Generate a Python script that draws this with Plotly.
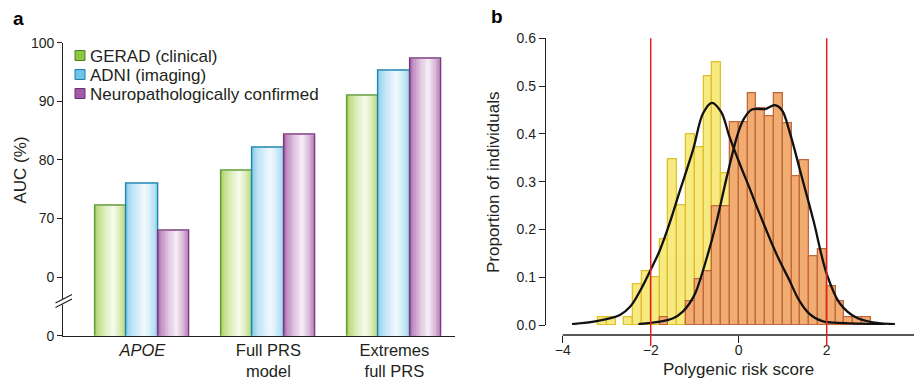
import plotly.graph_objects as go

W, H = 914, 381
FONT = "Arial, 'Liberation Sans', sans-serif"
INK = "#231F20"

# ---------------- Panel a data ----------------
categories = ["<i>APOE</i>", "Full PRS<br>model", "Extremes<br>full PRS"]
series_names = ["GERAD (clinical)", "ADNI (imaging)", "Neuropathologically confirmed"]
gerad_auc = [72.1, 78.2, 90.9]
adni_auc = [76.0, 82.1, 95.2]
neuro_auc = [68.0, 84.3, 97.2]
auc_tickvals = [50, 60, 70, 80, 90, 100]
auc_ticktext = ["0", "0", "70", "80", "90", "100"]

# ---------------- Panel b data ----------------
bin_width = 0.2
yellow_bin_starts = [-3.2, -3.0, -2.6, -2.4, -2.2, -2.0, -1.8, -1.6, -1.4, -1.2, -1.0, -0.8, -0.6, -0.4]
yellow_props = [0.017, 0.017, 0.017, 0.085, 0.112, 0.099, 0.180, 0.347, 0.250, 0.400, 0.372, 0.521, 0.550, 0.317]
orange_bin_starts = [-1.8, -1.2, -1.0, -0.8, -0.6, -0.4, -0.2, 0.0, 0.2, 0.4, 0.6, 0.8, 1.0,
                     1.2, 1.4, 1.6, 1.8, 2.0, 2.2, 2.4, 2.6, 2.8]
orange_props = [0.017, 0.049, 0.096, 0.112, 0.248, 0.248, 0.424, 0.424, 0.485, 0.453, 0.436, 0.485, 0.423,
                0.312, 0.345, 0.144, 0.158, 0.080, 0.049, 0.017, 0.017, 0.017]

yellow_kde_x = [-3.79, -3.23, -2.70, -2.47, -2.25, -2.02, -1.79, -1.57, -1.34, -1.04, -0.81, -0.61,
                -0.40, -0.21, 0.02, 0.24, 0.47, 0.85, 1.15, 1.37, 1.60, 1.90, 2.43, 3.33]
yellow_kde_y = [0.002, 0.008, 0.021, 0.038, 0.070, 0.112, 0.157, 0.213, 0.280, 0.366, 0.443, 0.465,
                0.446, 0.394, 0.338, 0.288, 0.234, 0.150, 0.094, 0.052, 0.024, 0.008, 0.004, 0.002]
orange_kde_x = [-2.28, -1.79, -1.49, -1.27, -1.12, -0.98, -0.74, -0.52, -0.27, -0.02, 0.12, 0.30,
                0.60, 0.82, 0.98, 1.17, 1.39, 1.70, 2.00, 2.30, 2.68, 3.10, 3.55]
orange_kde_y = [0.002, 0.007, 0.014, 0.028, 0.045, 0.068, 0.136, 0.210, 0.310, 0.400, 0.432, 0.451,
                0.452, 0.460, 0.450, 0.400, 0.325, 0.218, 0.107, 0.045, 0.015, 0.005, 0.002]
risk_cutoffs = [-2, 2]
prs_tickvals = [-4, -2, 0, 2]
prop_tickvals = [0, 0.1, 0.2, 0.3, 0.4, 0.5, 0.6]


def px(x):
    return x / W


def py(y):
    return 1 - y / H


def hex2rgb(h):
    h = h.lstrip("#")
    return tuple(int(h[i:i + 2], 16) for i in (0, 2, 4))


def lerp(c1, c2, t):
    a, b = hex2rgb(c1), hex2rgb(c2)
    return "rgb(%d,%d,%d)" % tuple(round(a[i] + (b[i] - a[i]) * t) for i in range(3))


fig = go.Figure()

# ---------- Panel a : gradient bars ----------
styles = [
    ("#A4CF55", "#F5FAE9", "#5F9A35", "#8DC63F", "#4E7F2A"),
    ("#8BCFEA", "#EEF8FD", "#1A84B4", "#6EC3E6", "#1A7FB0"),
    ("#A35EA6", "#F6EAF5", "#7B3B80", "#A35BA6", "#6B2D70"),
]
series_vals = [gerad_auc, adni_auc, neuro_auc]
bar_w = 0.25
lefts = [-0.375, -0.125, 0.125]
N = 16
for vals, (edge, mid, border, _, _), left, name in zip(series_vals, styles, lefts, series_names):
    for k in range(N):
        frac = k / N
        wk = bar_w * (1 - frac)
        ck = left + bar_w * (0.5 + 0.08 * frac)
        t = (k / (N - 1)) ** 0.6
        fig.add_trace(go.Bar(
            x=categories, y=vals, width=wk, offset=ck - wk / 2,
            marker=dict(color=lerp(edge, mid, t), line=dict(width=0)),
            xaxis="x", yaxis="y", showlegend=False, hoverinfo="skip"))
    fig.add_trace(go.Bar(
        x=categories, y=vals, width=bar_w, offset=left, name=name,
        marker=dict(color="rgba(0,0,0,0)", line=dict(color=border, width=1.4)),
        xaxis="x", yaxis="y", showlegend=False))

# ---------- Panel b : histograms ----------
yc = [s + bin_width / 2 for s in yellow_bin_starts]
oc = [s + bin_width / 2 for s in orange_bin_starts]
fig.add_trace(go.Bar(x=yc, y=yellow_props, width=bin_width, xaxis="x2", yaxis="y2",
                     marker=dict(color="#F6EA80", line=dict(color="#E0C12C", width=1.3)),
                     showlegend=False, name="Controls"))
fig.add_trace(go.Bar(x=oc, y=orange_props, width=bin_width, xaxis="x2", yaxis="y2",
                     marker=dict(color="#F1AC71", line=dict(color="#C2683B", width=1.3)),
                     showlegend=False, name="Cases"))
for kx, ky in [(yellow_kde_x, yellow_kde_y), (orange_kde_x, orange_kde_y)]:
    fig.add_trace(go.Scatter(x=kx, y=ky, mode="lines", xaxis="x2", yaxis="y2",
                             line=dict(color="#111111", width=2.3, shape="spline", smoothing=1.0),
                             showlegend=False, hoverinfo="skip"))

shapes = []
# x axis line of panel b
shapes.append(dict(type="line", xref="x2", yref="paper", x0=-4, x1=4, y0=py(335), y1=py(335),
                   line=dict(color=INK, width=1.3)))
# red cut-off lines
for c in risk_cutoffs:
    shapes.append(dict(type="line", xref="x2", yref="paper", x0=c, x1=c, y0=py(346), y1=py(38.3),
                       line=dict(color="#E32219", width=1.5), layer="above"))
# axis break on panel a
shapes.append(dict(type="rect", xref="paper", yref="paper", x0=px(60), x1=px(67), y0=py(304.5), y1=py(299),
                   fillcolor="white", line=dict(width=0)))
for off in (0, 4.5):
    shapes.append(dict(type="line", xref="paper", yref="paper", x0=px(55.5), x1=px(72),
                       y0=py(307.5 - off), y1=py(299 - off), line=dict(color=INK, width=1.2)))

annotations = []
# legend
rows = [55.5, 74.5, 93.5]
for name, st, r in zip(series_names, styles, rows):
    shapes.append(dict(type="rect", xref="paper", yref="paper", x0=px(75), x1=px(85),
                       y0=py(r + 5), y1=py(r - 5), fillcolor=st[3], line=dict(color=st[4], width=1)))
    annotations.append(dict(text=name, xref="paper", yref="paper", x=px(87.5), y=py(r + 1),
                            xanchor="left", yanchor="middle", showarrow=False,
                            font=dict(size=17, color=INK, family=FONT)))
# panel labels
annotations.append(dict(text="<b>a</b>", xref="paper", yref="paper", x=px(11), y=py(18),
                        xanchor="left", yanchor="middle", showarrow=False,
                        font=dict(size=19, color="#000", family=FONT)))
annotations.append(dict(text="<b>b</b>", xref="paper", yref="paper", x=px(489), y=py(17),
                        xanchor="left", yanchor="middle", showarrow=False,
                        font=dict(size=19, color="#000", family=FONT)))
# axis titles
annotations.append(dict(text="AUC (%)", xref="paper", yref="paper", x=px(19.5), y=py(170),
                        textangle=-90, xanchor="center", yanchor="middle", showarrow=False,
                        font=dict(size=17, color=INK, family=FONT)))
annotations.append(dict(text="Proportion of individuals", xref="paper", yref="paper", x=px(493), y=py(182),
                        textangle=-90, xanchor="center", yanchor="middle", showarrow=False,
                        font=dict(size=17, color=INK, family=FONT)))
annotations.append(dict(text="Polygenic risk score", xref="paper", yref="paper", x=px(738), y=py(369),
                        xanchor="center", yanchor="middle", showarrow=False,
                        font=dict(size=17, color=INK, family=FONT)))

fig.update_layout(
    width=W, height=H, margin=dict(l=0, r=0, t=0, b=0, autoexpand=False),
    paper_bgcolor="white", plot_bgcolor="white",
    barmode="overlay", bargap=0,
    font=dict(family=FONT, color=INK),
    shapes=shapes, annotations=annotations,
    xaxis=dict(domain=[px(63.3), px(455)], type="category", range=[-0.628, 2.481],
               showline=True, linecolor=INK, linewidth=1.3, ticks="", showgrid=False,
               zeroline=False, tickfont=dict(size=16.5, color=INK), anchor="y",
               ticklabelstandoff=-1, automargin=False),
    yaxis=dict(domain=[py(335.7), py(42.7)], range=[50, 100], tickvals=auc_tickvals,
               ticktext=auc_ticktext, ticks="outside", ticklen=5, tickwidth=1.2, tickcolor=INK,
               showline=True, linecolor=INK, linewidth=1.3, showgrid=False, zeroline=False,
               tickfont=dict(size=14, color=INK), anchor="x", automargin=False),
    xaxis2=dict(domain=[px(546), 1.0], range=[-4.380, 3.984], anchor="free", position=py(335),
                showline=False, ticks="outside", ticklen=7, tickwidth=1.2, tickcolor=INK,
                tickvals=prs_tickvals, showgrid=False, zeroline=False,
                tickfont=dict(size=14, color=INK), automargin=False, ticklabelstandoff=-5),
    yaxis2=dict(domain=[py(325), py(38.3)], range=[0, 0.6], anchor="x2",
                tickvals=prop_tickvals, tickformat=".1f", ticks="outside", ticklen=6, tickwidth=1.2,
                tickcolor=INK, showline=True, linecolor=INK, linewidth=1.3, showgrid=False,
                zeroline=False, tickfont=dict(size=14, color=INK), automargin=False),
)

fig.write_html(
    "out.html",
    config={"displayModeBar": False},
    post_script="document.body.style.margin='0';document.body.style.overflow='hidden';",
)
